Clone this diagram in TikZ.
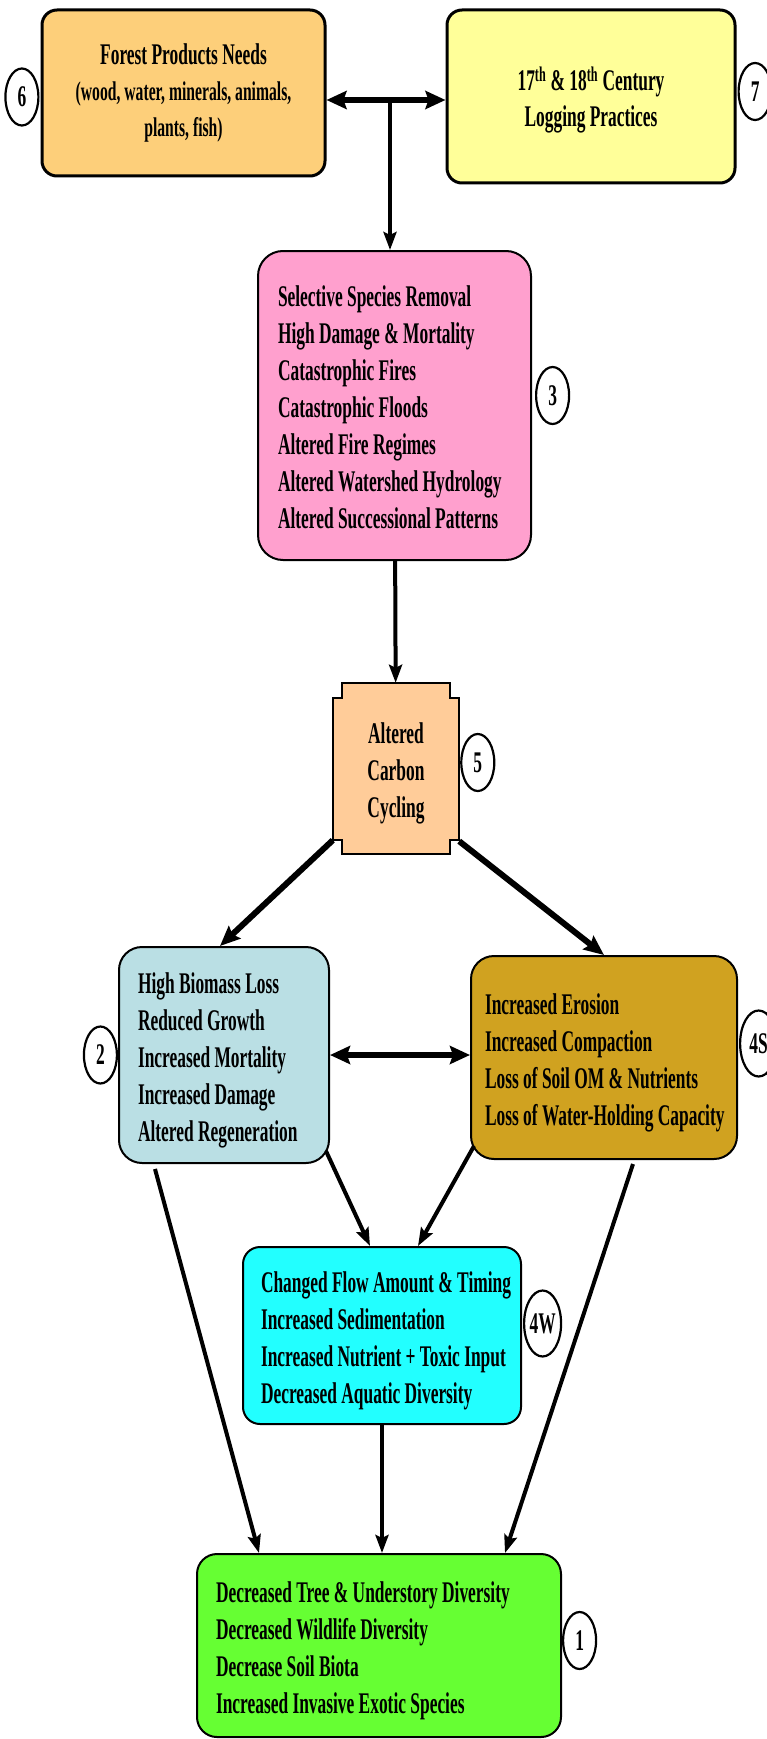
\documentclass[tikz,border=0pt]{standalone}
\usepackage{fontspec}
\setmainfont{Liberation Serif}[FakeStretch=0.58]
\usetikzlibrary{shapes.geometric, arrows.meta, positioning, backgrounds}

\definecolor{needscol}{RGB}{253,207,122}
\definecolor{loggingcol}{RGB}{255,255,153}
\definecolor{impactscol}{RGB}{255,160,206}
\definecolor{carboncol}{RGB}{255,204,153}
\definecolor{biomasscol}{RGB}{186,223,228}
\definecolor{soilcol}{RGB}{208,162,32}
\definecolor{watercol}{RGB}{34,255,255}
\definecolor{diversitycol}{RGB}{102,255,51}

% one line per effect, never wrapped, font word space kept, set a bit lower
\newcommand{\effects}[2][l]{\raisebox{-5pt}[\height][\depth]{\spaceskip=0pt\xspaceskip=0pt\begin{tabular}{@{}#1@{}}#2\end{tabular}}}

\begin{document}
\begin{tikzpicture}[x=1pt, y=-1pt]
        \tikzstyle{topbox} = [rectangle, rounded corners=15pt, draw=black, line width=3pt, align=center, inner sep=0pt, font=\fontsize{30}{36}\selectfont\bfseries]
        \tikzstyle{listbox} = [rectangle, draw=black, line width=2pt, align=left, inner ysep=0pt, font=\fontsize{30}{37}\selectfont\bfseries]
        \tikzstyle{tag} = [ellipse, draw=black, line width=2.2pt, fill=white, inner sep=0pt, minimum width=33pt, minimum height=57pt, font=\fontsize{30}{30}\selectfont\bfseries]
        \tikzstyle{widetag} = [minimum width=37pt, minimum height=66pt]
        \tikzstyle{arrow} = [line width=4pt, -{Stealth[length=18pt, width=13pt, inset=3pt]}]
        \tikzstyle{bigarrow} = [line width=6pt, -{Stealth[length=20pt, width=17pt, inset=3pt]}]
        \tikzstyle{dblarrow} = [line width=5.5pt, {Stealth[length=20pt, width=18pt, inset=3pt]}-{Stealth[length=20pt, width=18pt, inset=3pt]}]

        \useasboundingbox (0,0) rectangle (767,1739);

        % Nodes
        \node (needs) [topbox, fill=needscol, minimum width=283pt, minimum height=166pt] at (183.5,93)
            {Forest Products Needs\\\fontsize{27}{34}\selectfont(wood, water, minerals, animals,\\\fontsize{27}{34}\selectfont plants, fish)};
        \node (logging) [topbox, fill=loggingcol, minimum width=288pt, minimum height=173pt] at (591,96.5)
            {\effects[c]{17\textsuperscript{th} \& 18\textsuperscript{th} Century\\Logging Practices}};
        \node (impacts) [listbox, fill=impactscol, rounded corners=25pt, inner xsep=20pt, text width=233pt, minimum height=309pt] at (394.5,405.5)
            {\effects{Selective Species Removal\\High Damage \& Mortality\\Catastrophic Fires\\Catastrophic Floods\\Altered Fire Regimes\\Altered Watershed Hydrology\\Altered Successional Patterns}};
        \node (carbon) [rectangle, align=center, minimum width=126pt, minimum height=171pt, font=\fontsize{30}{37}\selectfont\bfseries] at (396,768.5)
            {\effects[c]{Altered\\Carbon\\Cycling}};
        \node (biomass) [listbox, fill=biomasscol, rounded corners=23pt, inner xsep=19pt, text width=172pt, minimum height=216pt] at (224,1055)
            {\effects{High Biomass Loss\\Reduced Growth\\Increased Mortality\\Increased Damage\\Altered Regeneration}};
        \node (soil) [listbox, fill=soilcol, rounded corners=23pt, inner xsep=14pt, text width=238pt, minimum height=203pt] at (604,1057.5)
            {\effects{Increased Erosion\\Increased Compaction\\Loss of Soil OM \& Nutrients\\Loss of Water-Holding Capacity}};
        \node (water) [listbox, fill=watercol, rounded corners=17pt, inner xsep=18pt, text width=242pt, minimum height=177pt] at (382,1335.5)
            {\effects{Changed Flow Amount \& Timing\\Increased Sedimentation\\Increased Nutrient + Toxic Input\\Decreased Aquatic Diversity}};
        \node (diversity) [listbox, fill=diversitycol, rounded corners=20pt, inner xsep=19pt, text width=326pt, minimum height=183pt] at (379,1645.5)
            {\effects{Decreased Tree \& Understory Diversity\\Decreased Wildlife Diversity\\Decrease Soil Biota\\Increased Invasive Exotic Species}};

        % Notched outline of the carbon box
        \begin{scope}[on background layer]
            \filldraw [fill=carboncol, draw=black, line width=2pt]
                ([xshift=9pt]carbon.north west) -- ([xshift=-9pt]carbon.north east)
                -- ([xshift=-9pt, yshift=-15pt]carbon.north east) -- ([yshift=-15pt]carbon.north east)
                -- ([yshift=14pt]carbon.south east) -- ([xshift=-9pt, yshift=14pt]carbon.south east)
                -- ([xshift=-9pt]carbon.south east) -- ([xshift=9pt]carbon.south west)
                -- ([xshift=9pt, yshift=14pt]carbon.south west) -- ([yshift=14pt]carbon.south west)
                -- ([yshift=-15pt]carbon.north west) -- ([xshift=9pt, yshift=-15pt]carbon.north west)
                -- cycle;
        \end{scope}

        % Number tags
        \node (tag6) [tag, left=1pt of needs, yshift=-4pt] {6};
        \node (tag7) [tag, right=1pt of logging, yshift=5pt] {7};
        \node (tag3) [tag, right=3pt of impacts, yshift=10pt] {3};
        \node (tag5) [tag, right=1pt of carbon, yshift=6pt] {5};
        \node (tag2) [tag, left=0pt of biomass] {2};
        \node (tag4s) [tag, widetag, right=1pt of soil, yshift=14pt] {4S};
        \node (tag4w) [tag, widetag, right=1pt of water, yshift=12pt] {4W};
        \node (tag1) [tag, right=0pt of diversity, yshift=5pt] {1};

        % Arrows
        \coordinate (split) at (390,100);
        \draw [dblarrow] (needs.east |- split) -- (logging.west |- split);
        \draw [arrow] (split) -- (split |- impacts.north);
        \draw [arrow] (impacts) -- (carbon);
        \draw [bigarrow] ([yshift=14pt]carbon.south west) -- ([xshift=-4pt]biomass.north);
        \draw [bigarrow] ([yshift=13pt]carbon.south east) -- (soil.north);
        \draw [dblarrow] (biomass.east) -- (soil.west |- biomass.east);
        \draw [arrow] ([xshift=-4pt, yshift=13pt]biomass.south east) -- ([xshift=-12pt]water.north);
        \draw [arrow] ([xshift=4pt, yshift=14pt]soil.south west) -- ([xshift=36pt]water.north);
        \draw [arrow] ([xshift=-69pt, yshift=-5pt]biomass.south) -- ([xshift=-120pt]diversity.north);
        \draw [arrow] (water) -- (water |- diversity.north);
        \draw [arrow] ([xshift=29pt, yshift=-4pt]soil.south) -- ([xshift=126pt]diversity.north);

\end{tikzpicture}
\end{document}
